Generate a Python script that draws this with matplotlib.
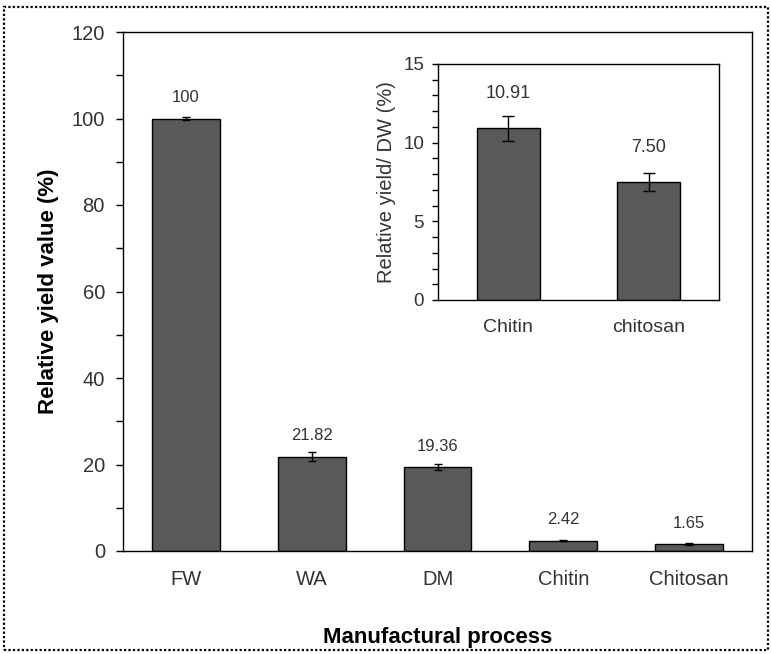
"""Relative yield across the chitin/chitosan manufacturing steps."""
import matplotlib
matplotlib.use("Agg")
import matplotlib.pyplot as plt
from matplotlib.patches import Rectangle
from matplotlib.ticker import MultipleLocator

plt.rcParams["font.family"] = ["Liberation Sans", "DejaVu Sans"]

# Main panel: yield relative to fresh weight
steps = ["FW", "WA", "DM", "Chitin", "Chitosan"]
yield_values = [100, 21.82, 19.36, 2.42, 1.65]
yield_labels = ["100", "21.82", "19.36", "2.42", "1.65"]
yield_errors = [0.3, 1.1, 0.7, 0.1, 0.3]

# Inset: yield relative to dry weight
dw_products = ["Chitin", "chitosan"]
dw_values = [10.91, 7.50]
dw_labels = ["10.91", "7.50"]
dw_errors = [0.78, 0.55]

BAR_COLOR = "#595959"
TEXT_COLOR = "#333333"

fig = plt.figure(figsize=(7.71, 6.54), dpi=100)

ax = fig.add_axes([123 / 771, 1 - 551 / 654, 629 / 771, 519 / 654])
x = range(len(steps))
ax.bar(x, yield_values, width=0.54, color=BAR_COLOR, edgecolor="black",
       linewidth=1.0, yerr=yield_errors, capsize=3,
       error_kw={"elinewidth": 1.0, "capthick": 1.0, "ecolor": "black"})
for xi, v, lab in zip(x, yield_values, yield_labels):
    ax.text(xi, v + 4.8, lab, ha="center", va="center", fontsize=12,
            color=TEXT_COLOR)
ax.set_xlim(-0.5, len(steps) - 0.5)
ax.set_ylim(0, 120)
ax.set_xticks(list(x))
ax.set_xticklabels(steps)
ax.yaxis.set_major_locator(MultipleLocator(20))
ax.yaxis.set_minor_locator(MultipleLocator(10))
ax.tick_params(axis="y", which="both", direction="out", length=5,
               width=1.0, labelsize=14.5, labelcolor=TEXT_COLOR, pad=8)
ax.tick_params(axis="x", length=0, labelsize=14.5, labelcolor=TEXT_COLOR,
               pad=14)
ax.set_ylabel("Relative yield value (%)", fontsize=16, fontweight="bold",
              labelpad=9)
ax.set_xlabel("Manufactural process", fontsize=16, fontweight="bold",
              labelpad=27)
for sp in ax.spines.values():
    sp.set_linewidth(1.0)

# Inset panel
ins = fig.add_axes([438 / 771, 1 - 300 / 654, 281 / 771, 236 / 654])
xi2 = range(len(dw_products))
ins.bar(xi2, dw_values, width=0.45, color=BAR_COLOR, edgecolor="black",
        linewidth=1.0, yerr=dw_errors, capsize=4,
        error_kw={"elinewidth": 1.0, "capthick": 1.0, "ecolor": "black"})
for xi, v, lab in zip(xi2, dw_values, dw_labels):
    ins.text(xi, v + 2.2, lab, ha="center", va="center", fontsize=13,
             color=TEXT_COLOR)
ins.set_xlim(-0.5, 1.5)
ins.set_ylim(0, 15)
ins.set_xticks(list(xi2))
ins.set_xticklabels(dw_products)
ins.yaxis.set_major_locator(MultipleLocator(5))
ins.yaxis.set_minor_locator(MultipleLocator(1))
ins.tick_params(axis="y", which="both", direction="out", length=4,
                width=1.0, labelsize=13.5, labelcolor=TEXT_COLOR, pad=6)
ins.tick_params(axis="x", length=0, labelsize=14, labelcolor=TEXT_COLOR,
                pad=14)
ins.set_ylabel("Relative yield/ DW (%)", fontsize=14.5, color=TEXT_COLOR,
               labelpad=5)
for sp in ins.spines.values():
    sp.set_linewidth(1.0)

# Dotted frame around the figure
fig.patches.append(Rectangle((4 / 771, 4 / 654), 764 / 771, 643 / 654,
                             transform=fig.transFigure, fill=False,
                             linestyle=(0, (1, 1)), linewidth=1.6,
                             edgecolor="black"))

fig.savefig("out.png", dpi=100)
